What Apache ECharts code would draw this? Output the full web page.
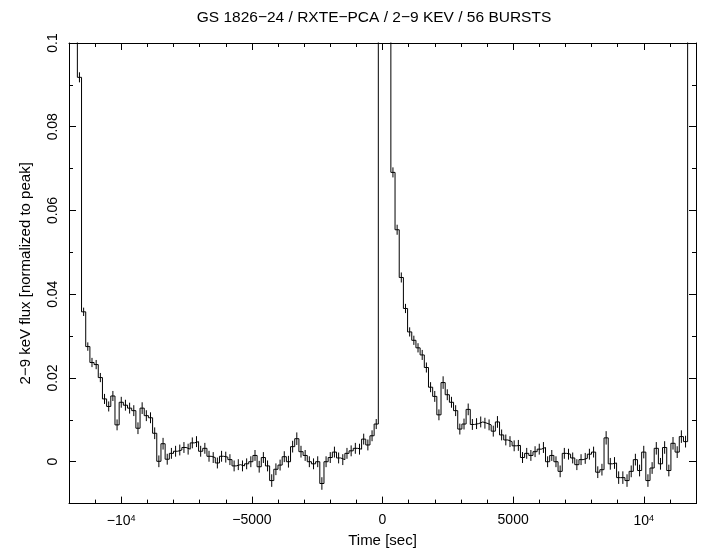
<!DOCTYPE html>
<html>
<head>
<meta charset="utf-8">
<script src="https://cdn.jsdelivr.net/npm/echarts@6/dist/echarts.min.js"></script>
<style>
html,body{margin:0;padding:0;background:#fff;}
#chart{width:715px;height:553px;}
</style>
</head>
<body>
<div id="chart"></div>
<script>
// ---- data ----
const chartTitle = 'GS 1826\u221224 / RXTE\u2212PCA / 2\u22129 KEV / 56 BURSTS';
const xTitle = 'Time [sec]';
const yTitle = '2\u22129 keV flux [normalized to peak]';

const binWidth = 160;          // s
const firstEdge = -12000;      // s, left edge of first bin

// pre-burst segment (previous burst tail -> next burst)
const fluxLeft = [
  0.14, 0.105, 0.0918, 0.0358, 0.0275, 0.0237, 0.0232, 0.0201, 0.0150, 0.0132,
  0.0157, 0.0088, 0.0142, 0.0135, 0.0128, 0.0122, 0.0080, 0.0128, 0.0110, 0.0105,
  0.0068, 0.0001, 0.0043, 0.0006, 0.0020, 0.0025, 0.0028, 0.0034, 0.0030, 0.0045,
  0.0048, 0.0025, 0.0032, 0.0013, 0.0010, -0.0003, 0.0013, 0.0011, 0.0005, -0.0010,
  -0.0007, -0.0010, -0.0005, 0.0000, 0.0015, -0.0012, 0.0010, -0.0010, -0.0045, -0.0018,
  -0.0008, 0.0012, 0.0000, 0.0036, 0.0055, 0.0024, 0.0015, 0.0000, -0.0005, 0.0000,
  -0.0052, 0.0000, 0.0010, 0.0023, 0.0009, 0.0005, 0.0020, 0.0026, 0.0032, 0.0030,
  0.0054, 0.0040, 0.0062, 0.0090
];
// burst peak bins (off scale)
const fluxBurst = [0.45, 1.0, 0.5];
// post-burst decay segment
const fluxRight = [
  0.0691, 0.0554, 0.0440, 0.0366, 0.0310, 0.0290, 0.0272, 0.0255, 0.0225, 0.0178,
  0.0156, 0.0112, 0.0189, 0.0160, 0.0142, 0.0122, 0.0078, 0.0090, 0.0125, 0.0089,
  0.0091, 0.0095, 0.0092, 0.0088, 0.0073, 0.0095, 0.0064, 0.0052, 0.0048, 0.0038,
  0.0039, 0.0010, 0.0020, 0.0015, 0.0024, 0.0030, 0.0034, 0.0000, 0.0015, 0.0000,
  -0.0023, 0.0020, 0.0018, 0.0009, -0.0007, 0.0005, 0.0008, 0.0018, 0.0023, -0.0025,
  -0.0019, 0.0057, -0.0005, -0.0003, -0.0038, -0.0038, -0.0045, -0.0023, 0.0005, -0.0021,
  0.0023, -0.0045, -0.0015, 0.0032, -0.0005, 0.0034, -0.0021, 0.0044, 0.0023, 0.0060,
  0.0048, 0.105, 0.14
];
// half-length of the 1-sigma error bars
const errLeft = [
  0.0012, 0.0012, 0.0012, 0.0010, 0.0010, 0.0011, 0.0011, 0.0011, 0.0012, 0.0012,
  0.0012, 0.0013, 0.0013, 0.0013, 0.0013, 0.0013, 0.0014, 0.0014, 0.0013, 0.0013,
  0.0014, 0.0014, 0.0014, 0.0013, 0.0013, 0.0013, 0.0013, 0.0013, 0.0013, 0.0013,
  0.0013, 0.0013, 0.0013, 0.0013, 0.0013, 0.0013, 0.0013, 0.0013, 0.0013, 0.0013,
  0.0013, 0.0013, 0.0013, 0.0013, 0.0013, 0.0014, 0.0013, 0.0013, 0.0015, 0.0014,
  0.0013, 0.0013, 0.0014, 0.0014, 0.0015, 0.0014, 0.0013, 0.0013, 0.0013, 0.0013,
  0.0015, 0.0013, 0.0013, 0.0013, 0.0013, 0.0013, 0.0013, 0.0013, 0.0013, 0.0013,
  0.0013, 0.0013, 0.0013, 0.0012
];
const errRight = [
  0.0012, 0.0012, 0.0012, 0.0011, 0.0011, 0.0011, 0.0011, 0.0012, 0.0012, 0.0012,
  0.0013, 0.0013, 0.0015, 0.0013, 0.0013, 0.0013, 0.0013, 0.0013, 0.0014, 0.0013,
  0.0013, 0.0013, 0.0013, 0.0013, 0.0013, 0.0014, 0.0013, 0.0013, 0.0013, 0.0013,
  0.0013, 0.0013, 0.0013, 0.0013, 0.0013, 0.0013, 0.0013, 0.0013, 0.0013, 0.0013,
  0.0014, 0.0013, 0.0013, 0.0013, 0.0013, 0.0013, 0.0013, 0.0013, 0.0013, 0.0014,
  0.0014, 0.0016, 0.0014, 0.0014, 0.0015, 0.0015, 0.0015, 0.0014, 0.0014, 0.0014,
  0.0015, 0.0015, 0.0014, 0.0015, 0.0014, 0.0015, 0.0014, 0.0015, 0.0014, 0.0015,
  0.0014, 0.0014, 0.0014
];

const xMajorTicks = [-10000, -5000, 0, 5000, 10000];
const xMinorTicks = [-12000, -11000, -9000, -8000, -7000, -6000, -4000, -3000, -2000, -1000,
                     1000, 2000, 3000, 4000, 6000, 7000, 8000, 9000, 11000, 12000];
const xTickLabels = ['{n|\u221210}{s|4}', '{n|\u22125000}', '{n|0}', '{n|5000}', '{n|10}{s|4}'];
const yMajorTicks = [0, 0.02, 0.04, 0.06, 0.08, 0.1];
const yMinorTicks = [-0.01, 0.01, 0.03, 0.05, 0.07, 0.09];
const yTickLabels = ['0', '0.02', '0.04', '0.06', '0.08', '0.1'];

// ---- build series data ----
const flux = fluxLeft.concat(fluxBurst, fluxRight);
const errs = errLeft.concat(fluxBurst.map(() => 0), errRight);
const stepData = flux.map((v, i) => [firstEdge + i * binWidth, v]);
stepData.push([firstEdge + flux.length * binWidth, flux[flux.length - 1]]);
const errData = flux.map((v, i) => [firstEdge + (i + 0.5) * binWidth, v, errs[i]]);

const FONT = 'Liberation Sans, Arial, Helvetica, sans-serif';
const BLACK = '#000';

function xAxisDef(pos, ticks, len, withLine, withLabels) {
  const a = {
    type: 'value', position: pos, min: -12000, max: 12000,
    axisLine: { show: withLine, onZero: false, lineStyle: { color: BLACK, width: 1 } },
    axisTick: { show: true, inside: true, length: len, customValues: ticks, lineStyle: { color: BLACK, width: 1 } },
    axisLabel: { show: false },
    splitLine: { show: false }
  };
  if (withLabels) {
    a.axisLabel = {
      show: true, customValues: xMajorTicks, margin: 10, color: BLACK,
      fontFamily: FONT, fontSize: 14,
      formatter: v => xTickLabels[xMajorTicks.indexOf(v)],
      rich: {
        n: { fontFamily: FONT, fontSize: 14, color: BLACK },
        s: { fontFamily: FONT, fontSize: 9, color: BLACK, verticalAlign: 'top', padding: [0, 0, 6, 0] }
      }
    };
    a.name = xTitle;
    a.nameLocation = 'middle';
    a.nameGap = 24;
    a.nameTextStyle = { fontFamily: FONT, fontSize: 15, color: BLACK };
  }
  return a;
}
function yAxisDef(pos, ticks, len, withLine, withLabels) {
  const a = {
    type: 'value', position: pos, min: -0.01, max: 0.1,
    axisLine: { show: withLine, onZero: false, lineStyle: { color: BLACK, width: 1 } },
    axisTick: { show: true, inside: true, length: len, customValues: ticks, lineStyle: { color: BLACK, width: 1 } },
    axisLabel: { show: false },
    splitLine: { show: false }
  };
  if (withLabels) {
    a.axisLabel = {
      show: true, customValues: yMajorTicks, rotate: 90, margin: 9, color: BLACK,
      fontFamily: FONT, fontSize: 14,
      formatter: v => yTickLabels[yMajorTicks.findIndex(t => Math.abs(t - v) < 1e-9)]
    };
    a.name = yTitle;
    a.nameLocation = 'middle';
    a.nameGap = 36;
    a.nameTextStyle = { fontFamily: FONT, fontSize: 15, color: BLACK };
  }
  return a;
}

const chart = echarts.init(document.getElementById('chart'), null, { renderer: 'canvas' });
chart.setOption({
  backgroundColor: '#fff',
  animation: false,
  title: {
    text: chartTitle, left: 369, top: 5, textAlign: 'center',
    textStyle: { fontFamily: FONT, fontSize: 15.5, fontWeight: 'normal', color: BLACK }
  },
  grid: { left: 69, right: 19, top: 43, bottom: 44, containLabel: false },
  xAxis: [
    xAxisDef('bottom', xMajorTicks, 7, true, true),
    xAxisDef('bottom', xMinorTicks, 4, false, false),
    xAxisDef('top', xMajorTicks, 7, true, false),
    xAxisDef('top', xMinorTicks, 4, false, false)
  ],
  yAxis: [
    yAxisDef('left', yMajorTicks, 7, true, true),
    yAxisDef('left', yMinorTicks, 4, false, false),
    yAxisDef('right', yMajorTicks, 7, true, false),
    yAxisDef('right', yMinorTicks, 4, false, false)
  ],
  series: [
    {
      type: 'line', xAxisIndex: 0, yAxisIndex: 0, step: 'end',
      data: stepData, showSymbol: false, symbol: 'none', clip: true,
      lineStyle: { color: BLACK, width: 1 }
    },
    {
      type: 'custom', xAxisIndex: 0, yAxisIndex: 0, clip: true,
      data: errData,
      renderItem: function (params, api) {
        const x = api.value(0), v = api.value(1), e = api.value(2);
        if (!e) return null;
        const p1 = api.coord([x, v - e]);
        const p2 = api.coord([x, v + e]);
        return {
          type: 'line',
          shape: { x1: p1[0], y1: p1[1], x2: p2[0], y2: p2[1] },
          style: { stroke: BLACK, lineWidth: 1 }
        };
      }
    }
  ]
});
</script>
</body>
</html>
